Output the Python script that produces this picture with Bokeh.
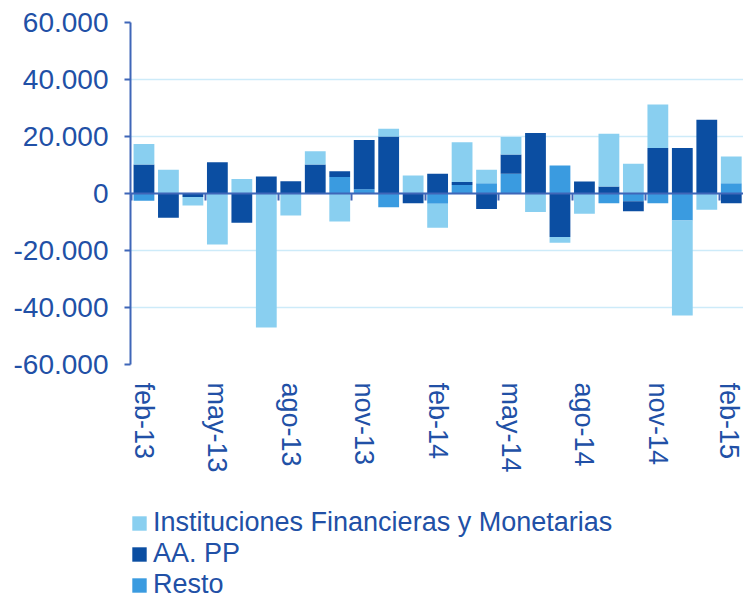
from bokeh.plotting import figure
from bokeh.layouts import column
from bokeh.models import (ColumnDataSource, Range1d, FixedTicker, LinearAxis,
                          Legend, LegendItem, CustomLabelingPolicy)
from bokeh.embed import file_html
from bokeh.resources import INLINE

# ---- data ----
months = ["feb-13", "mar-13", "abr-13", "may-13", "jun-13", "jul-13", "ago-13",
          "sep-13", "oct-13", "nov-13", "dic-13", "ene-14", "feb-14", "mar-14",
          "abr-14", "may-14", "jun-14", "jul-14", "ago-14", "sep-14", "oct-14",
          "nov-14", "dic-14", "ene-15", "feb-15"]
inst = [7200, 8300, -3000, -17900, 5100, -47000, -7700, 4600, -9800, 0,
        2700, 6300, -8400, 14000, 4700, 6100, -6500, -2000, -7100, 18500,
        10400, 15200, -33300, -5700, 9400]
aapp = [10200, -8500, -1200, 11000, -10300, 6000, 4300, 10200, 2000, 17300,
        20000, -3400, 6900, 1000, -5400, 6800, 21200, -15300, 4200, 2500,
        -3500, 16000, 16000, 25900, -3400]
resto = [-2500, 0, 0, 0, 0, 0, 0, 0, 5800, 1500,
         -4800, 0, -3600, 3000, 3600, 6900, 0, 9800, 0, -3400,
         -2700, -3400, -9500, 0, 3600]
series_names = ["Instituciones Financieras y Monetarias", "AA. PP", "Resto"]
ytick_values = [-60000, -40000, -20000, 0, 20000, 40000, 60000]
ytick_labels = ["-60.000", "-40.000", "-20.000", "0", "20.000", "40.000", "60.000"]
label_step = 3

# ---- styles ----
LIGHT = "#89CFF0"
DARK = "#0B4EA2"
MED = "#3A9BE0"
AXIS = "#3F66B8"
TEXT = "#2150A6"
GRID = "#CDEBF9"
FONT = "Liberation Sans"
FS = "28px"
FSX = "27px"

x = list(range(len(months)))
src = ColumnDataSource(dict(
    x=x,
    resto_pos=[max(v, 0) for v in resto], aapp_pos=[max(v, 0) for v in aapp],
    inst_pos=[max(v, 0) for v in inst],
    resto_neg=[min(v, 0) for v in resto], aapp_neg=[min(v, 0) for v in aapp],
    inst_neg=[min(v, 0) for v in inst],
))

p = figure(width=743, height=500, output_backend="svg", toolbar_location=None,
           x_range=Range1d(-0.55, len(months) - 0.5),
           y_range=Range1d(ytick_values[0], ytick_values[-1]),
           min_border_left=130, min_border_right=0, min_border_top=22,
           min_border_bottom=136)
p.outline_line_color = None
p.background_fill_color = "white"

pos = p.vbar_stack(["resto_pos", "aapp_pos", "inst_pos"], x="x", width=0.85,
                   fill_color=[MED, DARK, LIGHT], line_color=None, source=src)
neg = p.vbar_stack(["resto_neg", "aapp_neg", "inst_neg"], x="x", width=0.85,
                   fill_color=[MED, DARK, LIGHT], line_color=None, source=src)

# y axis
ya = p.yaxis[0]
ya.ticker = FixedTicker(ticks=ytick_values)
ya.major_label_overrides = {v: l for v, l in zip(ytick_values, ytick_labels)}
ya.axis_line_color = AXIS
ya.axis_line_width = 2
ya.major_tick_line_color = AXIS
ya.major_tick_line_width = 2
ya.major_tick_out = 6
ya.major_tick_in = 0
ya.minor_tick_line_color = None
ya.major_label_standoff = 16
ya.major_label_text_font = FONT
ya.major_label_text_font_size = FS
ya.major_label_text_color = TEXT

p.ygrid.grid_line_color = GRID
p.ygrid.grid_line_width = 1.5
p.xgrid.visible = False

# x axis with labels at the bottom
xa = p.xaxis[0]
lab_ticks = x[::label_step]
xa.ticker = FixedTicker(ticks=lab_ticks)
xa.major_label_overrides = {i: months[i] for i in lab_ticks}
xa.major_label_orientation = "vertical"
xa.axis_line_color = None
xa.major_tick_line_color = None
xa.minor_tick_line_color = None
xa.major_label_standoff = 12
xa.major_label_text_font = FONT
xa.major_label_text_font_size = FSX
xa.major_label_text_color = TEXT

# axis line at zero with tick marks between categories (no labels)
bounds = [i - 0.5 for i in lab_ticks]
hide_all = CustomLabelingPolicy(
    code="const n = indices.size; for (let i = 0; i < n; i++) { indices.unset(i) } return indices")
ta = LinearAxis(fixed_location=0,
                ticker=FixedTicker(ticks=bounds),
                major_label_policy=hide_all,
                axis_line_color=AXIS, axis_line_width=2,
                major_tick_line_color=AXIS, major_tick_line_width=2,
                major_tick_out=7, major_tick_in=0,
                minor_tick_line_color=None,
                major_label_text_font_size="0px", major_label_standoff=0)
p.add_layout(ta, "below")

# legend area below the chart (its frame is aligned with the chart's frame)
p2 = figure(width=743, height=100, output_backend="svg", toolbar_location=None,
            min_border=0, x_axis_location=None, y_axis_location=None,
            x_range=Range1d(0, 1), y_range=Range1d(0, 1))
p2.outline_line_color = None
p2.xgrid.visible = False
p2.ygrid.visible = False
key_colors = [LIGHT, DARK, MED]
key_renderers = [p2.vbar(x=[0], top=[0], width=0.0, fill_color=c, line_color=None)
                 for c in key_colors]
legend = Legend(items=[LegendItem(label=n, renderers=[r])
                       for n, r in zip(series_names, key_renderers)],
                location=(0, 0), orientation="vertical",
                label_text_font=FONT, label_text_font_size=FSX,
                label_text_color=TEXT,
                glyph_width=18, glyph_height=18, label_height=27, spacing=0,
                label_standoff=5, padding=0, margin=0, border_line_color=None,
                background_fill_alpha=0)
p2.add_layout(legend)

open("out.html", "w").write(file_html(column(p, p2, spacing=0), INLINE))
